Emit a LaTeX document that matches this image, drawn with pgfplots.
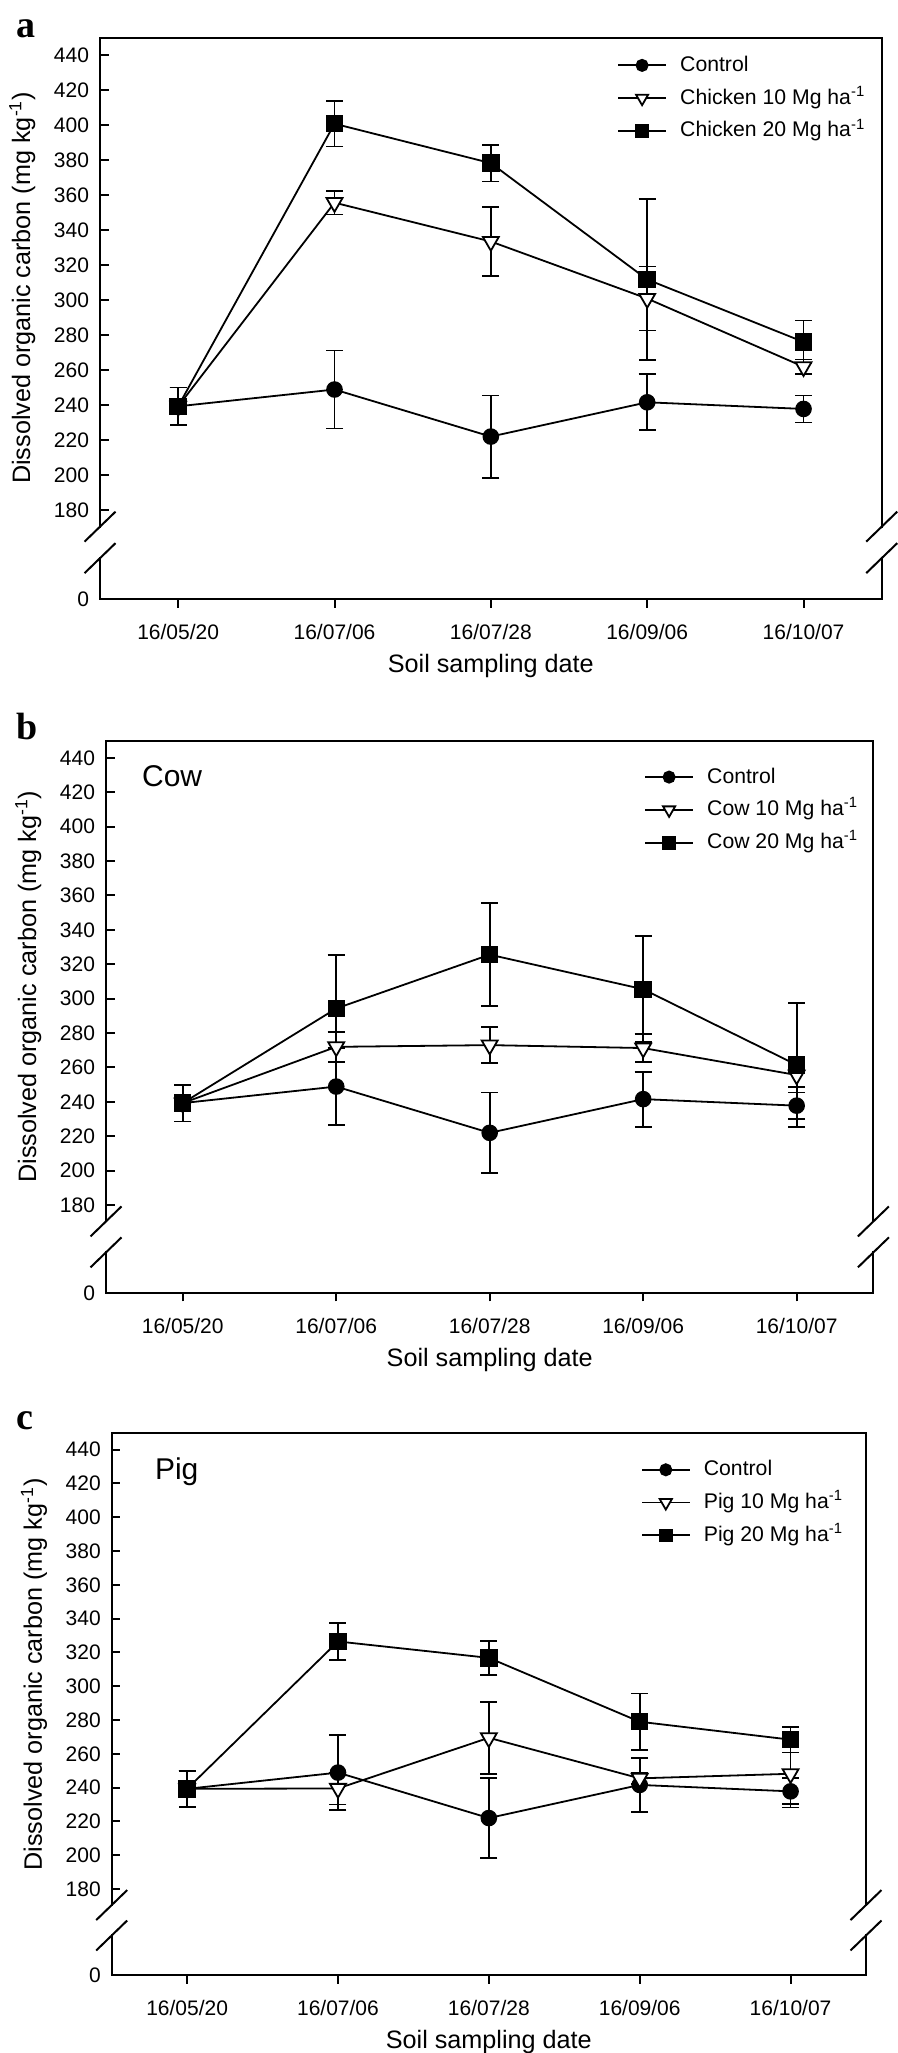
\documentclass[border=0pt]{standalone}
\usepackage{fontspec}
\setmainfont{Liberation Sans}
\newfontfamily\serifbf{Liberation Serif}[BoldFont={Liberation Serif Bold}]
\usepackage{pgfplots}
\usepackage{pgfplotstable}
\pgfplotsset{compat=1.18}

\pgfplotstableread{
x y e
0 239.3 10.7
1 248.9 22.3
2 222.0 23.5
3 241.6 16.0
4 237.8 7.7
}\ctrl
\pgfplotstableread{
x y e
0 239.3 10.7
1 355.7 6.8
2 333.5 19.5
3 300.9 18.3
4 261.9 4.2
}\chickA
\pgfplotstableread{
x y e
0 239.3 10.7
1 400.8 13.0
2 378.3 10.5
3 311.8 46.0
4 276.1 12.2
}\chickB
\pgfplotstableread{
x y e
0 239.3 10.7
1 272.0 8.5
2 273.0 10.6
3 271.3 8.2
4 255.6 6.8
}\cowA
\pgfplotstableread{
x y e
0 239.3 10.7
1 294.3 31.2
2 325.6 29.8
3 305.5 30.8
4 261.5 36.0
}\cowB
\pgfplotstableread{
x y e
0 239.3 10.7
1 239.5 9.5
2 269.5 21.3
3 245.5 3.5
4 248.2 20.0
}\pigA
\pgfplotstableread{
x y e
0 239.3 10.7
1 326.5 10.8
2 316.8 10.0
3 279.0 16.7
4 268.4 7.6
}\pigB

\newcommand\tickfont{\fontsize{10.5}{12}\selectfont}
\newcommand\labfont{\fontsize{12.6}{14}\selectfont}
\newcommand\legfont{\fontsize{10.6}{12}\selectfont}

\pgfplotsset{
  panel/.style n args={4}{
    scale only axis, width=#1, height=#2, clip=false,
    anchor=south west,
    xmin=-0.5, xmax=4.5, ymin=129, ymax=450,
    xtick={0,1,2,3,4},
    xticklabels={16/05/20,16/07/06,16/07/28,16/09/06,16/10/07},
    ytick={129,180,200,220,240,260,280,300,320,340,360,380,400,420,440},
    yticklabels={0,180,200,220,240,260,280,300,320,340,360,380,400,420,440},
    xtick pos=left, ytick pos=left,
    xtick align=outside, ytick align=inside,
    major tick length=4.3pt,
    tick style={black, line width=1pt},
    axis line style={draw=none},
    ticklabel style={font=\tickfont},
    /pgf/number format/assume math mode=true,
    yticklabel style={inner sep=0pt, xshift=-5.3pt},
    xticklabel style={inner sep=0pt, anchor=north, yshift=-8pt},
    xlabel={Soil sampling date},
    ylabel={Dissolved organic carbon (mg kg\textsuperscript{-1})},
    label style={font=\labfont},
    xlabel style={at={([yshift=-33.4pt]axis description cs:0.5,0)}, anchor=center},
    ylabel style={at={([xshift=-38.8pt]axis description cs:0,0.5545)}, anchor=center},
    legend cell align=left,
    legend image code/.code={\draw[mark repeat=2, mark phase=2, ##1, every mark/.append style={scale=0.76}] plot coordinates {(0pt,0pt) (11.9pt,0pt) (23.8pt,0pt)};},
    legend style={draw=none, fill=none, inner sep=0pt, anchor=north west,
      at={(rel axis cs:0,1)}, xshift=#3, yshift=#4,
      row sep=6.4pt, column sep=6.7pt, font=\legfont,
      nodes={inner sep=0pt, text height=8pt, text depth=2pt}},
  },
  errstyle/.style={/pgfplots/error bars/y dir=both, /pgfplots/error bars/y explicit,
    /pgfplots/error bars/error bar style={line width=0.9pt, black},
    /pgfplots/error bars/error mark options={rotate=90, black, line width=0.9pt, mark size=4.25pt}},
  sctrl/.style={black, line width=0.9pt, mark=*, mark size=3.7pt, mark options={solid, fill=black}, errstyle},
  sten/.style={black, line width=0.9pt, mark=triangle*, mark size=4.6pt, mark options={solid, fill=white, rotate=180}, errstyle},
  stwenty/.style={black, line width=0.9pt, mark=square*, mark size=3.9pt, mark options={solid, fill=black}, errstyle},
}

\newcommand\frameandbreaks{%
  \draw[line width=1pt, line cap=rect] (axis cs:-0.5,170.5) |- (axis cs:4.5,450) -- (axis cs:4.5,170.5);
  \draw[line width=1pt, line cap=rect] (axis cs:-0.5,152.5) |- (axis cs:4.5,129) -- (axis cs:4.5,152.5);
  \draw[line width=1pt] ([shift={(-7.75pt,-7.5pt)}]axis cs:-0.5,170.5) -- ++(15.5pt,15pt);
  \draw[line width=1pt] ([shift={(-7.75pt,-7.5pt)}]axis cs:-0.5,152.5) -- ++(15.5pt,15pt);
  \draw[line width=1pt] ([shift={(-7.75pt,-7.5pt)}]axis cs:4.5,170.5) -- ++(15.5pt,15pt);
  \draw[line width=1pt] ([shift={(-7.75pt,-7.5pt)}]axis cs:4.5,152.5) -- ++(15.5pt,15pt);
}

\begin{document}
\begin{tikzpicture}
\path[use as bounding box] (0pt,0pt) rectangle (449pt,1026.5pt);

% panel a
\begin{axis}[panel={390.85pt}{280.8pt}{258.5pt}{-8.65pt}, at={(50pt,726.85pt)}]
  \addplot[sctrl] table[x=x, y=y, y error=e] {\ctrl};
  \addlegendentry{Control}
  \addplot[sten] table[x=x, y=y, y error=e] {\chickA};
  \addlegendentry{Chicken 10 Mg ha\textsuperscript{-1}}
  \addplot[stwenty] table[x=x, y=y, y error=e] {\chickB};
  \addlegendentry{Chicken 20 Mg ha\textsuperscript{-1}}
  \frameandbreaks
\end{axis}

% panel b
\begin{axis}[panel={383.7pt}{276.05pt}{269pt}{-13pt}, at={(53pt,380.1pt)}]
  \addplot[sctrl] table[x=x, y=y, y error=e] {\ctrl};
  \addlegendentry{Control}
  \addplot[sten] table[x=x, y=y, y error=e] {\cowA};
  \addlegendentry{Cow 10 Mg ha\textsuperscript{-1}}
  \addplot[stwenty] table[x=x, y=y, y error=e] {\cowB};
  \addlegendentry{Cow 20 Mg ha\textsuperscript{-1}}
  \frameandbreaks
\end{axis}

% panel c
\begin{axis}[panel={377.15pt}{271.2pt}{264.5pt}{-13.3pt}, at={(55.85pt,38.9pt)}]
  \addplot[sctrl] table[x=x, y=y, y error=e] {\ctrl};
  \addlegendentry{Control}
  \addplot[sten] table[x=x, y=y, y error=e] {\pigA};
  \addlegendentry{Pig 10 Mg ha\textsuperscript{-1}}
  \addplot[stwenty] table[x=x, y=y, y error=e] {\pigB};
  \addlegendentry{Pig 20 Mg ha\textsuperscript{-1}}
  \frameandbreaks
\end{axis}

\node[anchor=base west, inner sep=0pt, font=\serifbf\bfseries\fontsize{19}{21}\selectfont] at (8.2pt,1007.85pt) {a};
\node[anchor=base west, inner sep=0pt, font=\serifbf\bfseries\fontsize{19}{21}\selectfont] at (8.2pt,656.5pt) {b};
\node[anchor=base west, inner sep=0pt, font=\serifbf\bfseries\fontsize{19}{21}\selectfont] at (8.2pt,311.8pt) {c};
\node[anchor=base west, inner sep=0pt, font=\fontsize{15}{17}\selectfont] at (70.85pt,633.15pt) {Cow};
\node[anchor=base west, inner sep=0pt, font=\fontsize{15}{17}\selectfont] at (77.3pt,286.7pt) {Pig};
\end{tikzpicture}
\end{document}
